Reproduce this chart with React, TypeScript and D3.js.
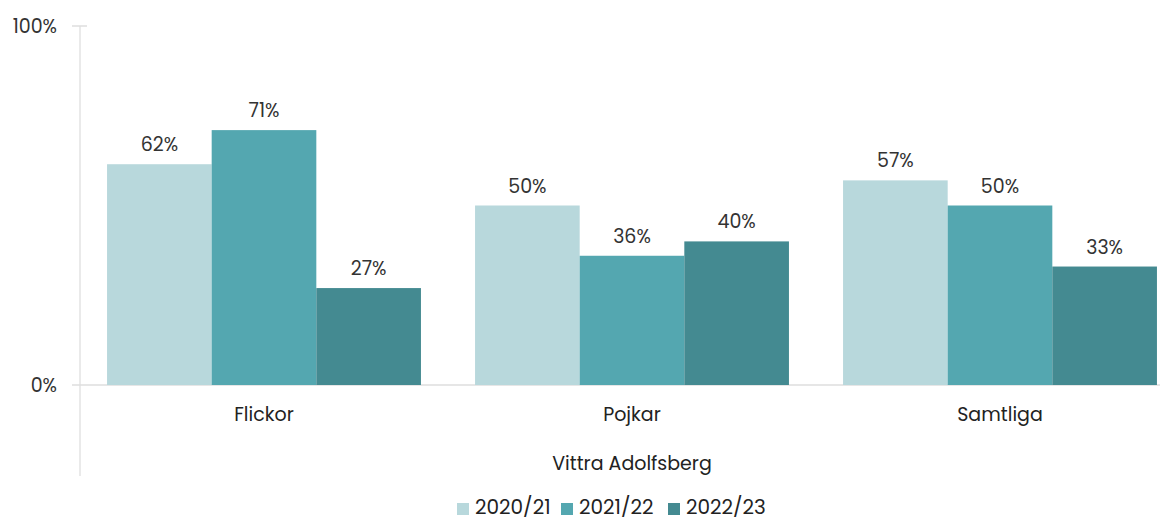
import React from "react";
import * as d3 from "d3";

const categories = ["Flickor", "Pojkar", "Samtliga"];
const seriesNames = ["2020/21", "2021/22", "2022/23"];
const values2020 = [61.5, 50, 57];
const values2021 = [71, 36, 50];
const values2022 = [27, 40, 33];
const labels2020 = ["62%", "50%", "57%"];
const labels2021 = ["71%", "36%", "50%"];
const labels2022 = ["27%", "40%", "33%"];
const yTicks = [0, 100];
const colors = ["#b8d8dc", "#54a7b0", "#448a91"];
const xTitle = "Vittra Adolfsberg";

const W = 1171;
const H = 521;
const FONT = "Poppins, 'Open Sans', Inter, sans-serif";

export default function App() {
  const series = [values2020, values2021, values2022];
  const labels = [labels2020, labels2021, labels2022];
  const x = d3.scaleBand<string>().domain(categories).range([80, 1184]).paddingInner(0.147).paddingOuter(0.0735);
  const x1 = d3.scaleBand<string>().domain(seriesNames).range([0, x.bandwidth()]);
  const y = d3.scaleLinear().domain([0, 100]).range([385, 26]);

  const legendX = [457, 561, 668];

  return (
    <svg width={W} height={H} style={{ display: "block", position: "absolute", left: 0, top: 0 }} fontFamily={FONT}>
      <rect width={W} height={H} fill="#fff" />
      <line x1={80} x2={80} y1={26} y2={476} stroke="#e3e3e3" strokeWidth={1.5} />
      {yTicks.map((t) => (
        <g key={t}>
          <line x1={72} x2={t === 0 ? 1160 : 87} y1={y(t)} y2={y(t)} stroke="#dedede" strokeWidth={1.5} />
          <text x={57} y={y(t) + 7} textAnchor="end" fontSize={19} fill="#333">{t}%</text>
        </g>
      ))}
      {categories.map((c, i) => (
        <g key={c} transform={`translate(${x(c)},0)`}>
          {seriesNames.map((s, j) => {
            const v = series[j][i];
            const bx = x1(s)!;
            return (
              <g key={s}>
                <rect x={bx} y={y(v)} width={x1.bandwidth()} height={y(0) - y(v)} fill={colors[j]} />
                <text x={bx + x1.bandwidth() / 2} y={y(v) - 13} textAnchor="middle" fontSize={19} fill="#333">{labels[j][i]}</text>
              </g>
            );
          })}
          <text x={x.bandwidth() / 2} y={421} textAnchor="middle" fontSize={19} fill="#222">{c}</text>
        </g>
      ))}
      <text x={632} y={470} textAnchor="middle" fontSize={19} fill="#222">{xTitle}</text>
      {seriesNames.map((s, j) => (
        <g key={s}>
          <rect x={legendX[j]} y={503} width={12} height={12} fill={colors[j]} />
          <text x={legendX[j] + 18} y={514} fontSize={20} fill="#222">{s}</text>
        </g>
      ))}
    </svg>
  );
}
